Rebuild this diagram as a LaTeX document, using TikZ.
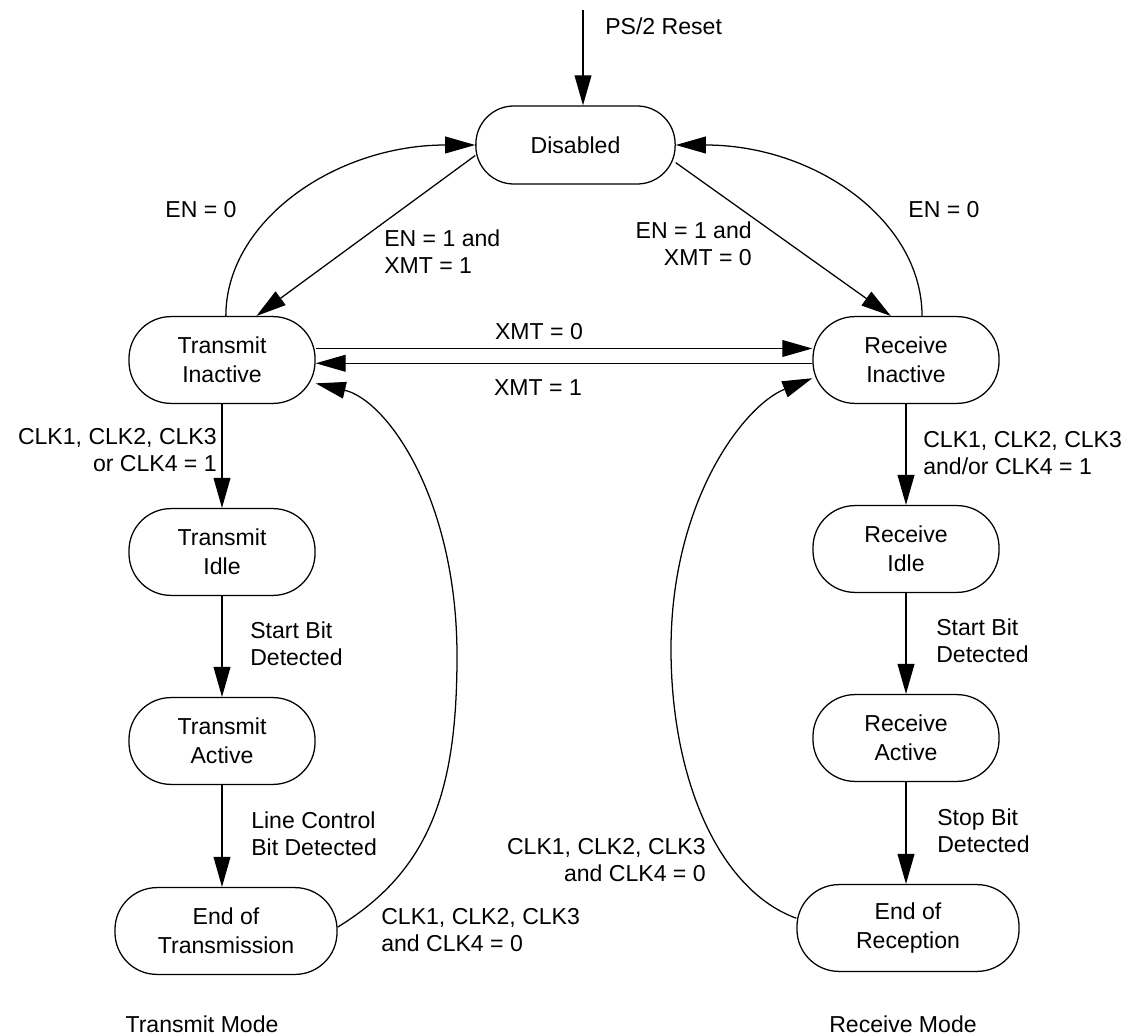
\documentclass[tikz,border=0pt]{standalone}
\usepackage{fontspec}
\setmainfont{Liberation Sans}
\usetikzlibrary{arrows.meta}

\tikzset{
  state/.style={draw,line width=0.9pt,rounded corners=1.05cm,minimum width=4.65cm,minimum height=2.17cm,
    align=center,inner sep=0pt,font=\fontsize{16.4}{20.6}\selectfont},
  wide/.style={minimum width=5.55cm},
  cond/.style={inner sep=0pt,font=\fontsize{16.4}{19.2}\selectfont},
  arr/.style={line width=0.9pt,-{Triangle[length=0.75cm,width=0.42cm]}}
}

\begin{document}
\begin{tikzpicture}[x=0.025cm,y=-0.025cm]
\useasboundingbox (0,0) rectangle (1136,1036);
\node[state,minimum width=4.98cm,minimum height=1.95cm,rounded corners=0.95cm] (dis) at (575.5,145) {Disabled};
\node[state] (ti) at (222,360) {Transmit\\Inactive};
\node[state] (tidle) at (222,552) {Transmit\\Idle};
\node[state] (ta) at (222,741) {Transmit\\Active};
\node[state,wide] (eot) at (226,931) {End of\\Transmission};
\node[state] (ri) at (906,360) {Receive\\Inactive};
\node[state] (ridle) at (906,549) {Receive\\Idle};
\node[state] (ra) at (906,738) {Receive\\Active};
\node[state,wide] (eor) at (908,928) {End of\\Reception};
\coordinate (rst) at (583,10);
\coordinate (tloop) at (457,656);
\coordinate (rloop) at (671,649);

\draw[arr] (rst) -- (rst |- dis.north);
\draw[arr] (ti.85) .. controls +(0,-95) and +(-140,0) .. (dis.west);
\draw[arr] (ri.70) .. controls +(0,-95) and +(140,0) .. (dis.east);
\draw[arr] (dis.186) -- (ti.52);
\draw[arr] (dis.-10) -- (ri.109);
\draw[arr] (ti.7) -- (ti.7 -| ri.west);
\draw[arr] (ri.182) -- (ri.182 -| ti.east);
\foreach \a/\b in {ti/tidle,tidle/ta,ta/eot,ri/ridle,ridle/ra,ra/eor}
  \draw[arr] (\a.south) -- (\a.south |- \b.north);
\draw[arr] (eot.2) .. controls +(93,-57) and +(0,134) .. (tloop) .. controls +(0,-156) and +(72,17) .. (ti.-14);
\draw[arr] (eor.175) .. controls +(-77,-28) and +(0,131) .. (rloop) .. controls +(0,-149) and +(-68,27) .. (ri.191);

\node[cond,anchor=base west] (lrst) at (605,35) {PS/2 Reset};
\node[cond] (len0) at (201,210) {EN = 0};
\node[cond] (ren0) at (944,210) {EN = 0};
\node[cond,anchor=west,align=left] (len1x1) at (384,252) {EN = 1 and\\XMT = 1};
\node[cond,anchor=east,align=right] (len1x0) at (752,244) {EN = 1 and\\XMT = 0};
\node[cond] (lx0) at (539,332) {XMT = 0};
\node[cond] (lx1) at (538,388) {XMT = 1};
\node[cond,anchor=east,align=right] (lclk1) at (217,450) {CLK1, CLK2, CLK3\\or CLK4 = 1};
\node[cond,anchor=west,align=left] (rclk1) at (923,453) {CLK1, CLK2, CLK3\\and/or CLK4 = 1};
\node[cond,anchor=west,align=left] (lstart) at (250,644) {Start Bit\\Detected};
\node[cond,anchor=west,align=left] (lline) at (251,834) {Line Control\\Bit Detected};
\node[cond,anchor=west,align=left] (lclk0) at (381,930) {CLK1, CLK2, CLK3\\and CLK4 = 0};
\node[cond,anchor=east,align=right] (rclk0) at (706,860) {CLK1, CLK2, CLK3\\and CLK4 = 0};
\node[cond,anchor=west,align=left] (rstart) at (936,641) {Start Bit\\Detected};
\node[cond,anchor=west,align=left] (rstop) at (937,831) {Stop Bit\\Detected};
\node[cond] (tmode) at (202,1024) {Transmit Mode};
\node[cond] (rmode) at (903,1024) {Receive Mode};
\end{tikzpicture}
\end{document}
